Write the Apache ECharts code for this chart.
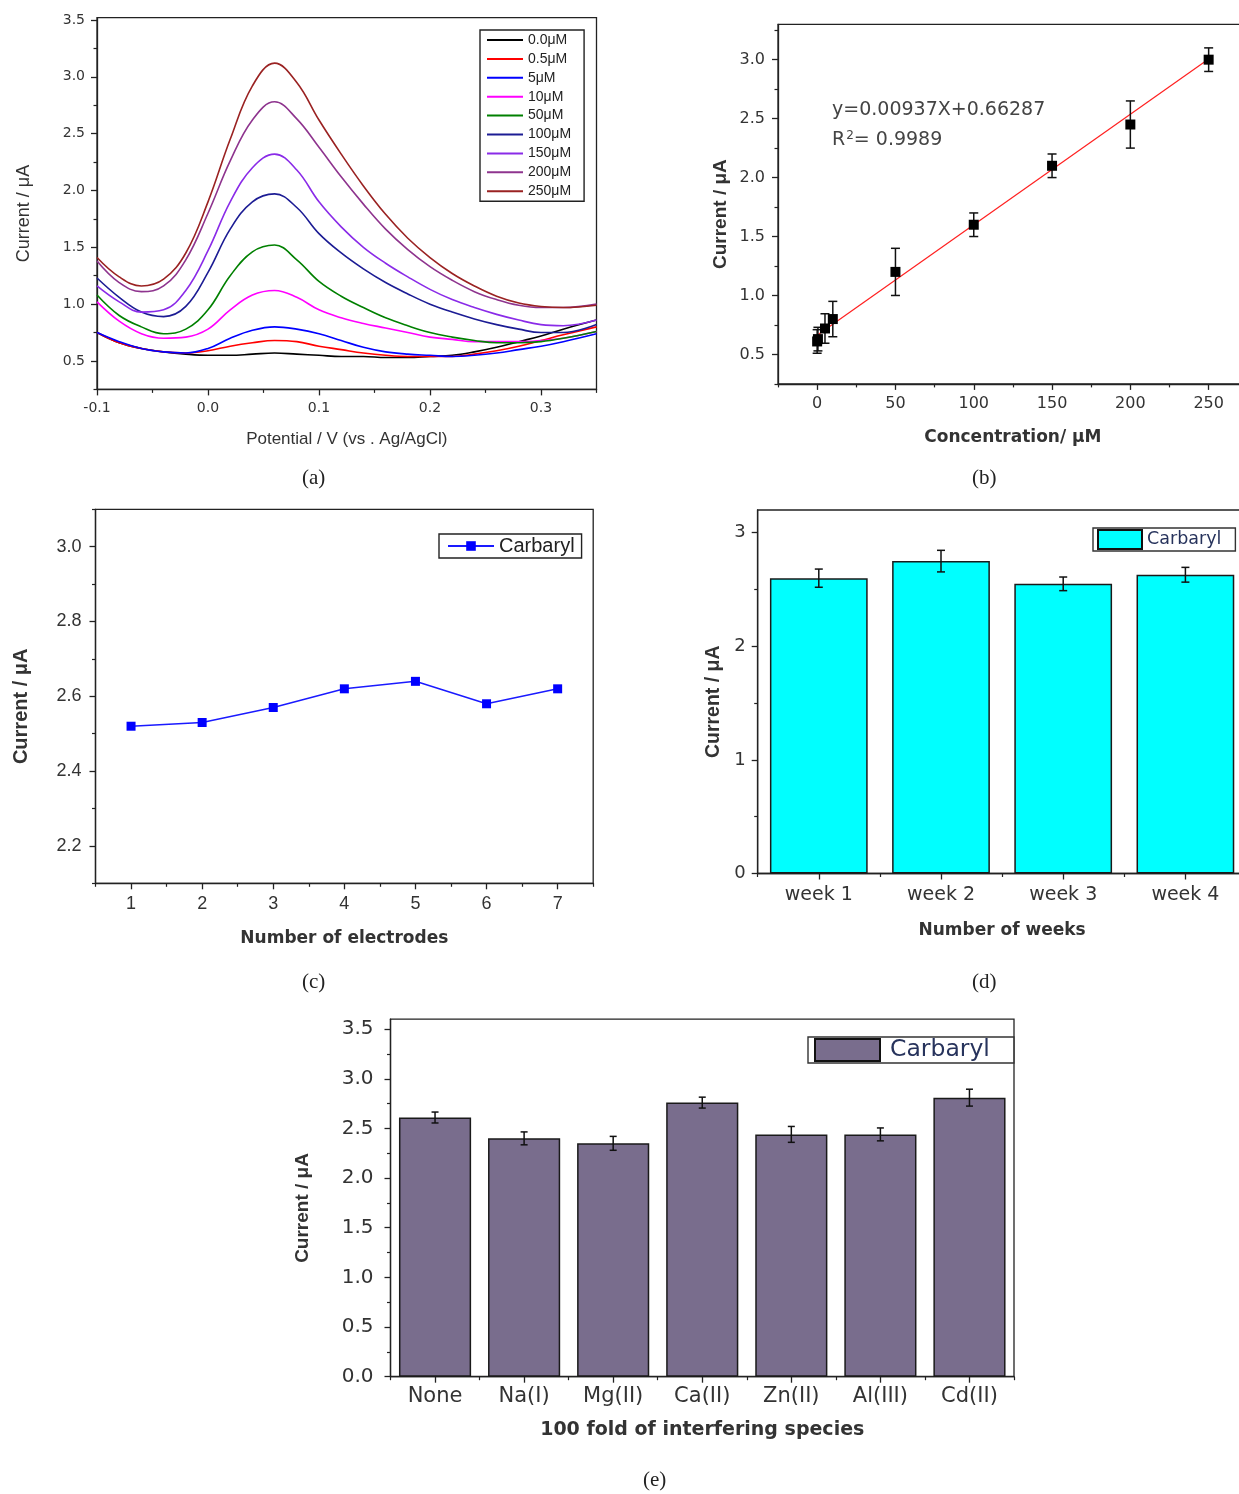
<!DOCTYPE html>
<html>
<head>
<meta charset="utf-8">
<title>Carbaryl sensor characterisation</title>
<script src="https://cdn.jsdelivr.net/npm/echarts@6/dist/echarts.min.js"></script>
<style>
  html, body { margin: 0; padding: 0; background: #fff; }
  #chart { width: 1239px; height: 1494px; }
</style>
</head>
<body>
<div id="chart"></div>
<script>
// ---------- (a) differential pulse voltammograms ----------
const potential = [-0.1, -0.08, -0.06, -0.04, -0.02, 0, 0.02, 0.04, 0.06, 0.08, 0.1, 0.12,
                   0.14, 0.16, 0.18, 0.2, 0.22, 0.24, 0.26, 0.28, 0.3, 0.32, 0.35];
const conc0_0 = [0.75, 0.66, 0.61, 0.58, 0.56, 0.55, 0.55, 0.56, 0.57, 0.56, 0.55, 0.54, 0.54, 0.53, 0.53, 0.54, 0.55, 0.58, 0.62, 0.67, 0.72, 0.78, 0.86];
const conc0_5 = [0.75, 0.66, 0.61, 0.58, 0.57, 0.59, 0.63, 0.66, 0.68, 0.67, 0.63, 0.60, 0.57, 0.55, 0.54, 0.54, 0.54, 0.56, 0.59, 0.63, 0.68, 0.73, 0.80];
const conc5   = [0.75, 0.67, 0.61, 0.58, 0.57, 0.61, 0.70, 0.77, 0.80, 0.78, 0.74, 0.68, 0.62, 0.58, 0.56, 0.55, 0.54, 0.55, 0.57, 0.60, 0.63, 0.67, 0.74];
const conc10  = [1.02, 0.85, 0.74, 0.70, 0.71, 0.78, 0.95, 1.08, 1.12, 1.06, 0.95, 0.88, 0.83, 0.79, 0.75, 0.71, 0.69, 0.67, 0.67, 0.67, 0.68, 0.70, 0.76];
const conc50  = [1.08, 0.90, 0.80, 0.74, 0.78, 0.95, 1.25, 1.46, 1.52, 1.39, 1.20, 1.07, 0.97, 0.88, 0.81, 0.75, 0.71, 0.68, 0.66, 0.66, 0.67, 0.70, 0.76];
const conc100 = [1.23, 1.06, 0.93, 0.89, 0.98, 1.28, 1.66, 1.90, 1.97, 1.85, 1.62, 1.45, 1.31, 1.19, 1.09, 1.00, 0.93, 0.87, 0.82, 0.78, 0.75, 0.75, 0.82];
const conc150 = [1.16, 1.02, 0.93, 0.95, 1.12, 1.47, 1.90, 2.20, 2.32, 2.18, 1.90, 1.68, 1.50, 1.36, 1.24, 1.13, 1.04, 0.97, 0.91, 0.86, 0.82, 0.81, 0.86];
const conc200 = [1.38, 1.19, 1.11, 1.16, 1.39, 1.80, 2.26, 2.62, 2.78, 2.63, 2.38, 2.12, 1.88, 1.66, 1.48, 1.33, 1.21, 1.11, 1.04, 0.99, 0.97, 0.97, 1.00];
const conc250 = [1.41, 1.24, 1.16, 1.22, 1.45, 1.90, 2.45, 2.92, 3.12, 2.95, 2.62, 2.32, 2.04, 1.79, 1.58, 1.41, 1.27, 1.16, 1.07, 1.01, 0.98, 0.97, 0.99];
const curveNames = ['0.0μM', '0.5μM', '5μM', '10μM', '50μM', '100μM', '150μM', '200μM', '250μM'];
const curveValues = [conc0_0, conc0_5, conc5, conc10, conc50, conc100, conc150, conc200, conc250];
const curveColors = ['#000000', '#ff0000', '#0000ff', '#ff00ff', '#008000', '#1c1c94', '#8a2be8', '#8e348e', '#9a2222'];
const potentialTicks = [-0.1, 0, 0.1, 0.2, 0.3];
const potentialMinor = [-0.05, 0.05, 0.15, 0.25, 0.35];
const currentTicksA = [0.5, 1.0, 1.5, 2.0, 2.5, 3.0, 3.5];
const currentMinorA = [0.25, 0.75, 1.25, 1.75, 2.25, 2.75, 3.25];

// ---------- (b) calibration ----------
const concentration = [0, 0.5, 5, 10, 50, 100, 150, 200, 250];
const calCurrent    = [0.61, 0.63, 0.72, 0.80, 1.20, 1.60, 2.10, 2.45, 3.00];
const calError      = [0.10, 0.10, 0.125, 0.15, 0.20, 0.10, 0.10, 0.20, 0.10];
const fitSlope = 0.00937;
const fitIntercept = 0.66287;
const fitR2 = '0.9989';
const concTicks = [0, 50, 100, 150, 200, 250];
const concMinor = [-25, 25, 75, 125, 175, 225, 275];
const currentTicksB = [0.5, 1.0, 1.5, 2.0, 2.5, 3.0];
const currentMinorB = [0.25, 0.75, 1.25, 1.75, 2.25, 2.75, 3.25];

// ---------- (c) reproducibility ----------
const electrodes = [1, 2, 3, 4, 5, 6, 7];
const electrodeCurrent = [2.52, 2.53, 2.57, 2.62, 2.64, 2.58, 2.62];
const electrodeMinor = [0.5, 1.5, 2.5, 3.5, 4.5, 5.5, 6.5, 7.5];
const currentTicksC = [2.2, 2.4, 2.6, 2.8, 3.0];
const currentMinorC = [2.1, 2.3, 2.5, 2.7, 2.9, 3.1];

// ---------- (d) stability ----------
const weeks = ['week 1', 'week 2', 'week 3', 'week 4'];
const weekCurrent = [2.60, 2.75, 2.55, 2.63];
const weekError = [0.08, 0.095, 0.06, 0.065];
const currentTicksD = [0, 1, 2, 3];
const currentMinorD = [0.5, 1.5, 2.5];

// ---------- (e) interference ----------
const species = ['None', 'Na(I)', 'Mg(II)', 'Ca(II)', 'Zn(II)', 'Al(III)', 'Cd(II)'];
const speciesCurrent = [2.61, 2.40, 2.35, 2.76, 2.44, 2.44, 2.81];
const speciesError = [0.055, 0.065, 0.07, 0.055, 0.08, 0.065, 0.085];
const currentTicksE = [0, 0.5, 1.0, 1.5, 2.0, 2.5, 3.0, 3.5];
const currentMinorE = [0.25, 0.75, 1.25, 1.75, 2.25, 2.75, 3.25];

// ---------- helpers ----------
const INK = '#222';
const SANS = 'Liberation Sans, Arial, sans-serif';
const WIDE = 'DejaVu Sans, Verdana, sans-serif';

function valueAxes(dim, grid, o) {
  const pos = dim === 'x' ? 'bottom' : 'left';
  const main = {
    type: 'value', gridIndex: grid, position: pos, min: o.min, max: o.max,
    axisLine: { show: true, onZero: false, lineStyle: { color: INK, width: 1.3 } },
    axisTick: { show: true, length: 6, customValues: o.ticks, lineStyle: { color: INK, width: 1.3 } },
    axisLabel: {
      customValues: o.ticks, margin: o.margin, formatter: o.fmt,
      fontSize: o.fontSize, fontFamily: o.font, color: o.color || '#333'
    },
    splitLine: { show: false },
    name: o.name, nameLocation: 'middle', nameGap: o.nameGap, nameMoveOverlap: false,
    nameTextStyle: o.nameStyle
  };
  const minor = {
    type: 'value', gridIndex: grid, position: pos, min: o.min, max: o.max,
    axisLine: { show: false, onZero: false },
    axisTick: { show: true, length: 3.5, customValues: o.minor, lineStyle: { color: INK, width: 1.2 } },
    axisLabel: { show: false }, splitLine: { show: false }
  };
  return [main, minor];
}

function categoryAxes(grid, cats, o) {
  const main = {
    type: 'category', gridIndex: grid, position: 'bottom', data: cats,
    axisLine: { show: true, onZero: false, lineStyle: { color: INK, width: 1.3 } },
    axisTick: { show: true, alignWithLabel: true, interval: 0, length: 6, lineStyle: { color: INK, width: 1.3 } },
    axisLabel: { interval: 0, margin: o.margin, fontSize: o.fontSize, fontFamily: o.font, color: '#333' },
    splitLine: { show: false },
    name: o.name, nameLocation: 'middle', nameGap: o.nameGap, nameMoveOverlap: false,
    nameTextStyle: o.nameStyle
  };
  const minor = {
    type: 'category', gridIndex: grid, position: 'bottom', data: cats,
    axisLine: { show: false, onZero: false },
    axisTick: { show: true, interval: 0, length: 3.5, lineStyle: { color: INK, width: 1.2 } },
    axisLabel: { show: false }, splitLine: { show: false }
  };
  return [main, minor];
}

function errorBars(capHalf) {
  return function (params, api) {
    const x = api.value(0), y = api.value(1), e = api.value(2);
    const hi = api.coord([x, y + e]);
    const lo = api.coord([x, y - e]);
    const style = { stroke: '#111', lineWidth: 1.5, fill: null };
    return {
      type: 'group',
      children: [
        { type: 'line', shape: { x1: hi[0], y1: hi[1], x2: lo[0], y2: lo[1] }, style: style },
        { type: 'line', shape: { x1: hi[0] - capHalf, y1: hi[1], x2: hi[0] + capHalf, y2: hi[1] }, style: style },
        { type: 'line', shape: { x1: lo[0] - capHalf, y1: lo[1], x2: lo[0] + capHalf, y2: lo[1] }, style: style }
      ]
    };
  };
}

const fmt1 = v => Number(v).toFixed(1);
const fmt0 = v => String(Math.round(v));
const yTitle = (size, weight, font) => ({
  fontSize: size, fontWeight: weight, fontFamily: font || SANS, color: '#333', padding: [0, 20, 0, 0]
});
const xTitle = (size, weight, font) => ({
  fontSize: size, fontWeight: weight, fontFamily: font || SANS, color: '#333'
});

const frame = { show: true, borderColor: INK, borderWidth: 1.3, backgroundColor: 'transparent', outerBoundsMode: 'none' };

const grids = [
  Object.assign({ left: 97, top: 17.7, width: 499.5, height: 371.7 }, frame),
  Object.assign({ left: 778, top: 24.3, width: 469.8, height: 359.6 }, frame),
  Object.assign({ left: 95.5, top: 509.3, width: 497.7, height: 374 }, frame),
  Object.assign({ left: 757.7, top: 510, width: 488.8, height: 363.5 }, frame),
  Object.assign({ left: 390.5, top: 1019.2, width: 623.5, height: 357.5 }, frame)
];

const xAxes = [].concat(
  valueAxes('x', 0, { min: -0.1, max: 0.35, ticks: potentialTicks, minor: potentialMinor, fmt: fmt1,
    margin: 12, fontSize: 14, font: WIDE, name: 'Potential / V (vs . Ag/AgCl)', nameGap: 41,
    nameStyle: xTitle(17, 'normal') }),
  valueAxes('x', 1, { min: -25, max: 275, ticks: concTicks, minor: concMinor, fmt: fmt0,
    margin: 12, fontSize: 16, font: WIDE, name: 'Concentration/ μM', nameGap: 45,
    nameStyle: xTitle(17, 'bold', WIDE) }),
  valueAxes('x', 2, { min: 0.5, max: 7.5, ticks: electrodes, minor: electrodeMinor, fmt: fmt0,
    margin: 12, fontSize: 18, font: SANS, name: 'Number of electrodes', nameGap: 47,
    nameStyle: xTitle(17, 'bold', WIDE) }),
  categoryAxes(3, weeks, { margin: 12, fontSize: 19, font: WIDE, name: 'Number of weeks', nameGap: 49,
    nameStyle: xTitle(17, 'bold', WIDE) }),
  categoryAxes(4, species, { margin: 9, fontSize: 21, font: WIDE, name: '100 fold of interfering species', nameGap: 44,
    nameStyle: xTitle(19, 'bold', WIDE) })
);

const yAxes = [].concat(
  valueAxes('y', 0, { min: 0.25, max: 3.52, ticks: currentTicksA, minor: currentMinorA, fmt: fmt1,
    margin: 12, fontSize: 14, font: WIDE, name: 'Current / μA', nameGap: 64,
    nameStyle: yTitle(18, 'normal') }),
  valueAxes('y', 1, { min: 0.25, max: 3.3, ticks: currentTicksB, minor: currentMinorB, fmt: fmt1,
    margin: 13, fontSize: 16, font: WIDE, name: 'Current / μA', nameGap: 48,
    nameStyle: yTitle(19, 'bold') }),
  valueAxes('y', 2, { min: 2.1, max: 3.1, ticks: currentTicksC, minor: currentMinorC, fmt: fmt1,
    margin: 14, fontSize: 18, font: SANS, name: 'Current / μA', nameGap: 64,
    nameStyle: yTitle(20, 'bold') }),
  valueAxes('y', 3, { min: 0, max: 3.2, ticks: currentTicksD, minor: currentMinorD, fmt: fmt0,
    margin: 12, fontSize: 18, font: WIDE, name: 'Current / μA', nameGap: 34,
    nameStyle: yTitle(19.5, 'bold') }),
  valueAxes('y', 4, { min: 0, max: 3.6, ticks: currentTicksE, minor: currentMinorE, fmt: fmt1,
    margin: 17, fontSize: 20, font: WIDE, name: 'Current / μA', nameGap: 78,
    nameStyle: yTitle(19, 'bold') })
);

// ---------- series ----------
const series = [];

curveNames.forEach((name, i) => {
  series.push({
    name: name, type: 'line', xAxisIndex: 0, yAxisIndex: 0,
    data: potential.map((p, k) => [p, curveValues[i][k]]),
    smooth: 0.4, symbol: 'none', silent: true,
    lineStyle: { color: curveColors[i], width: 1.6 },
    itemStyle: { color: curveColors[i] }
  });
});

// calibration: fitted line, error bars, measured points
series.push({
  name: 'fit', type: 'line', xAxisIndex: 2, yAxisIndex: 2, symbol: 'none', silent: true,
  data: [[0, fitIntercept], [250, fitSlope * 250 + fitIntercept]],
  lineStyle: { color: '#ff2020', width: 1.2 }
});
series.push({
  type: 'custom', xAxisIndex: 2, yAxisIndex: 2, silent: true, z: 5,
  renderItem: errorBars(4.5), encode: { x: 0, y: 1 },
  data: concentration.map((c, i) => [c, calCurrent[i], calError[i]])
});
series.push({
  name: 'calibration', type: 'scatter', xAxisIndex: 2, yAxisIndex: 2, silent: true, z: 6,
  symbol: 'rect', symbolSize: 10, itemStyle: { color: '#000', opacity: 1 },
  data: concentration.map((c, i) => [c, calCurrent[i]])
});

series.push({
  name: 'Carbaryl-c', type: 'line', xAxisIndex: 4, yAxisIndex: 4, silent: true,
  symbol: 'rect', symbolSize: 9, showSymbol: true,
  data: electrodes.map((e, i) => [e, electrodeCurrent[i]]),
  lineStyle: { color: '#1a1aff', width: 1.5 }, itemStyle: { color: '#0000ff', opacity: 1 }
});

series.push({
  name: 'Carbaryl-d', type: 'bar', xAxisIndex: 6, yAxisIndex: 6, silent: true,
  data: weekCurrent, barCategoryGap: '20%',
  itemStyle: { color: '#00ffff', borderColor: '#1a1a1a', borderWidth: 1.5 }
});
series.push({
  type: 'custom', xAxisIndex: 6, yAxisIndex: 6, silent: true, z: 5,
  renderItem: errorBars(4), encode: { x: 0, y: 1 },
  data: weekCurrent.map((v, i) => [i, v, weekError[i]])
});

series.push({
  name: 'Carbaryl-e', type: 'bar', xAxisIndex: 8, yAxisIndex: 8, silent: true,
  data: speciesCurrent, barCategoryGap: '19%',
  itemStyle: { color: '#796d8d', borderColor: '#1a1a1a', borderWidth: 1.5 }
});
series.push({
  type: 'custom', xAxisIndex: 8, yAxisIndex: 8, silent: true, z: 5,
  renderItem: errorBars(3.5), encode: { x: 0, y: 1 },
  data: speciesCurrent.map((v, i) => [i, v, speciesError[i]])
});

// ---------- legends ----------
const legends = [
  {
    orient: 'vertical', left: 480, top: 30, data: curveNames, selectedMode: false,
    icon: 'rect', itemWidth: 36, itemHeight: 2, itemGap: 4.9,
    padding: [3, 13, 3, 7], borderColor: INK, borderWidth: 1.4, backgroundColor: '#fff',
    textStyle: { fontSize: 14, fontFamily: SANS, color: '#222' }
  },
  {
    left: 439, top: 534, data: ['Carbaryl-c'], selectedMode: false,
    itemWidth: 46, itemHeight: 12, formatter: () => 'Carbaryl',
    padding: [2, 7, 2, 8], borderColor: INK, borderWidth: 1.4, backgroundColor: '#fff',
    textStyle: { fontSize: 20, fontFamily: SANS, color: '#222' }
  },
  {
    left: 1093, top: 528, data: ['Carbaryl-d'], selectedMode: false,
    icon: 'rect', itemWidth: 44, itemHeight: 19, formatter: () => 'Carbaryl',
    itemStyle: { borderColor: '#111', borderWidth: 2 },
    padding: [1, 14, 1, 4], borderColor: '#333', borderWidth: 1.4, backgroundColor: '#fff',
    textStyle: { fontSize: 17.5, fontFamily: WIDE, color: '#27335c' }
  },
  {
    left: 808, top: 1037, data: ['Carbaryl-e'], selectedMode: false,
    icon: 'rect', itemWidth: 65, itemHeight: 22, formatter: () => 'Carbaryl',
    itemStyle: { borderColor: '#111', borderWidth: 2 },
    padding: [1, 24, 1, 6], borderColor: '#333', borderWidth: 1.4, backgroundColor: '#fff',
    textStyle: { fontSize: 23.5, fontFamily: WIDE, color: '#27335c', padding: [0, 0, 0, 5] }
  }
];

// ---------- panel captions and fit annotation ----------
const captionStyle = { fontSize: 21, fontFamily: 'Liberation Serif, DejaVu Serif, serif', fill: '#222' };
const graphic = [
  { type: 'text', left: 302, top: 468, style: Object.assign({ text: '(a)' }, captionStyle) },
  { type: 'text', left: 972, top: 468, style: Object.assign({ text: '(b)' }, captionStyle) },
  { type: 'text', left: 302, top: 972, style: Object.assign({ text: '(c)' }, captionStyle) },
  { type: 'text', left: 972, top: 972, style: Object.assign({ text: '(d)' }, captionStyle) },
  { type: 'text', left: 643, top: 1470, style: Object.assign({ text: '(e)' }, captionStyle) },
  { type: 'text', left: 832, top: 101, style: {
      text: 'y=' + fitSlope.toFixed(5) + 'X+' + fitIntercept.toFixed(5),
      fontSize: 19, fontFamily: WIDE, fill: '#444' } },
  { type: 'text', left: 832, top: 130, style: {
      text: '{r|R}{s|2}{r|= ' + fitR2 + '}',
      rich: {
        r: { fontSize: 19, fontFamily: WIDE, fill: '#444' },
        s: { fontSize: 12, fontFamily: WIDE, fill: '#444', verticalAlign: 'top', padding: [0, 0, 8, 1] }
      } } }
];

const chart = echarts.init(document.getElementById('chart'), null, { renderer: 'canvas' });
chart.setOption({
  backgroundColor: '#fff',
  animation: false,
  grid: grids,
  xAxis: xAxes,
  yAxis: yAxes,
  legend: legends,
  series: series,
  graphic: graphic
});
</script>
</body>
</html>
